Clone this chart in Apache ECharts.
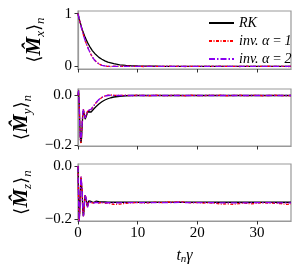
<!DOCTYPE html>
<html><head><meta charset="utf-8">
<script src="https://cdn.jsdelivr.net/npm/echarts@6/dist/echarts.min.js"></script>
<style>html,body{margin:0;padding:0;background:#fff}#c{width:300px;height:270px}</style>
</head><body><div id="c"></div>
<script>
const tGrid = [0,0.1,0.2,0.3,0.4,0.5,0.6,0.7,0.8,0.9,1.0,1.1,1.2,1.3,1.4,1.5,1.6,1.7,1.8,1.9,2.0,2.2,2.4,2.6,2.8,3.0,3.5,4,4.5,5,5.5,6,7,8,9,10,11,12,13,14,15,16,17,18,19,20,21,22,23,24,25,26,27,28,29,30,31,32,33,34,35,35.7];

const mxRK   = [1,0.95,0.905,0.86,0.82,0.78,0.74,0.705,0.67,0.64,0.61,0.58,0.55,0.52,0.50,0.47,0.45,0.43,0.41,0.39,0.37,0.335,0.30,0.27,0.245,0.22,0.17,0.135,0.105,0.08,0.065,0.05,0.03,0.018,0.011,0.007,0.004,0.003,0.002,0.001,0,0,0,0,0,0,0,0,0,0,0,0,0,0,0,0,0,0,0,0,0,0];
const mxInv1 = [1,0.95,0.90,0.85,0.81,0.76,0.72,0.68,0.64,0.60,0.56,0.53,0.49,0.46,0.43,0.40,0.37,0.34,0.315,0.29,0.265,0.22,0.18,0.145,0.115,0.09,0.045,0.02,0.006,0.001,-0.003,0.002,-0.002,0.003,-0.002,0.001,-0.003,0.002,0,-0.002,0.003,-0.001,0.002,-0.003,0.001,0,-0.002,0.002,-0.001,0.003,-0.002,0.001,-0.003,0.002,0,-0.002,0.001,0.002,-0.002,0.001,-0.003,0];
const mxInv2 = [1,0.95,0.90,0.85,0.81,0.76,0.72,0.68,0.64,0.60,0.56,0.53,0.49,0.46,0.43,0.40,0.37,0.34,0.315,0.29,0.265,0.22,0.18,0.145,0.115,0.09,0.045,0.02,0.008,0.003,0.001,0,0,0,0,0,0,0,0,0,0,0,0,0,0,0,0,0,0,0,0,0,0,0,0,0,0,0,0,0,0,0];

const myRK   = [0,0.02,-0.03,-0.11,-0.17,-0.19,-0.17,-0.12,-0.08,-0.06,-0.065,-0.08,-0.095,-0.10,-0.09,-0.075,-0.065,-0.063,-0.068,-0.072,-0.072,-0.066,-0.06,-0.055,-0.05,-0.045,-0.034,-0.025,-0.018,-0.013,-0.009,-0.006,-0.003,-0.001,0,0,0,0,0,0,0,0,0,0,0,0,0,0,0,0,0,0,0,0,0,0,0,0,0,0,0,0];
const myInv1 = [0,0.02,-0.04,-0.12,-0.18,-0.19,-0.16,-0.11,-0.07,-0.055,-0.06,-0.075,-0.09,-0.098,-0.088,-0.072,-0.062,-0.058,-0.06,-0.064,-0.063,-0.056,-0.05,-0.043,-0.036,-0.03,-0.017,-0.008,-0.002,0.001,0.002,0.001,0,0.001,-0.001,0.001,0,-0.001,0.001,0,-0.001,0.001,0,-0.001,0.001,0,-0.001,0.001,0,0.001,-0.001,0,0.001,-0.001,0,0.001,-0.001,0,0.001,0,-0.001,0];
const myInv2 = [0,0.02,-0.04,-0.12,-0.18,-0.185,-0.155,-0.105,-0.07,-0.055,-0.06,-0.075,-0.09,-0.097,-0.087,-0.071,-0.061,-0.057,-0.06,-0.063,-0.062,-0.055,-0.049,-0.042,-0.035,-0.029,-0.016,-0.007,-0.002,0,0.001,0,0,0,0,0,0,0,0,0,0,0,0,0,0,0,0,0,0,0,0,0,0,0,0,0,0,0,0,0,0,0];

const mzRK   = [0,-0.12,-0.20,-0.17,-0.09,-0.045,-0.04,-0.10,-0.17,-0.19,-0.17,-0.13,-0.11,-0.11,-0.13,-0.15,-0.155,-0.145,-0.132,-0.125,-0.124,-0.134,-0.14,-0.138,-0.134,-0.133,-0.135,-0.136,-0.136,-0.137,-0.137,-0.137,-0.137,-0.137,-0.137,-0.137,-0.137,-0.137,-0.137,-0.137,-0.137,-0.137,-0.137,-0.137,-0.137,-0.137,-0.137,-0.137,-0.137,-0.137,-0.137,-0.137,-0.137,-0.137,-0.137,-0.137,-0.137,-0.137,-0.137,-0.137,-0.137,-0.137];
const mzInv1 = [0,-0.13,-0.21,-0.17,-0.09,-0.04,-0.035,-0.09,-0.165,-0.19,-0.175,-0.135,-0.11,-0.105,-0.125,-0.148,-0.156,-0.148,-0.135,-0.128,-0.128,-0.138,-0.143,-0.14,-0.136,-0.137,-0.14,-0.138,-0.141,-0.139,-0.143,-0.145,-0.144,-0.141,-0.139,-0.138,-0.14,-0.139,-0.137,-0.138,-0.136,-0.137,-0.135,-0.137,-0.139,-0.138,-0.14,-0.139,-0.141,-0.144,-0.143,-0.145,-0.142,-0.14,-0.143,-0.141,-0.139,-0.14,-0.141,-0.142,-0.145,-0.143];
const mzInv2 = [0,-0.13,-0.21,-0.17,-0.09,-0.04,-0.035,-0.09,-0.165,-0.19,-0.175,-0.135,-0.11,-0.105,-0.125,-0.148,-0.156,-0.148,-0.135,-0.128,-0.128,-0.138,-0.142,-0.14,-0.137,-0.137,-0.139,-0.138,-0.139,-0.138,-0.139,-0.139,-0.139,-0.138,-0.138,-0.138,-0.138,-0.138,-0.138,-0.138,-0.138,-0.138,-0.137,-0.138,-0.138,-0.138,-0.138,-0.138,-0.139,-0.139,-0.139,-0.139,-0.139,-0.139,-0.139,-0.138,-0.138,-0.138,-0.139,-0.139,-0.139,-0.139];

const seriesNames = ['RK','inv. α\u2009=\u20091','inv. α\u2009=\u20092'];
const xTicks = [0,10,20,30];
const yTicks = [[0,1],[-0.2,0],[-0.2,0]];
const yRanges = [[-0.05,1.05],[-0.202,0.026],[-0.208,0.008]];
const yNames = ['x','y','z'];

const pair = (ys) => tGrid.map((t,i)=>[t,ys[i]]);
const panels = [[mxRK,mxInv1,mxInv2],[myRK,myInv1,myInv2],[mzRK,mzInv1,mzInv2]];

const serif = 'Liberation Serif';
const gridTops = [11,89,164];
const gridHeights = [58,57,57];
const styles = [
  {color:'#000000', type:'solid', width:1.3},
  {color:'#ff0000', type:[3,1.5,1,1.5], width:1.3},
  {color:'#8a00f0', type:[6,2,1.5,2], width:1.3}
];

const grids=[], xAxes=[], yAxes=[], series=[];
for (let p=0;p<3;p++){
  grids.push({left:78, width:213, top:gridTops[p], height:gridHeights[p], show:true, borderColor:'#999', borderWidth:1.2, containLabel:false});
  const xa = {type:'value', gridIndex:p, min:0, max:35.7, interval:10,
    axisLine:{show:true, onZero:false, lineStyle:{color:'#999', width:1.2}},
    axisTick:{show:true, length:3.5, customValues:xTicks, lineStyle:{color:'#333'}},
    axisLabel:{show:p===2, customValues:xTicks, fontFamily:serif, fontSize:15, color:'#000', margin:5},
    splitLine:{show:false}};
  if (p===2){
    xa.name='{i|t}{s|n}{i|γ}';
    xa.nameLocation='middle'; xa.nameGap=26;
    xa.nameTextStyle={fontFamily:serif, color:'#000', rich:{i:{fontFamily:serif,fontStyle:'italic',fontSize:16,lineHeight:18,color:'#000'}, s:{fontFamily:serif,fontStyle:'italic',fontSize:11,verticalAlign:'bottom',lineHeight:11,color:'#000'}}};
  }
  xAxes.push(xa);
  yAxes.push({type:'value', gridIndex:p, min:yRanges[p][0], max:yRanges[p][1],
    axisLine:{show:true, onZero:false, lineStyle:{color:'#999', width:1.2}},
    axisTick:{show:true, length:3.5, customValues:yTicks[p], lineStyle:{color:'#333'}},
    axisLabel:{customValues:yTicks[p], fontFamily:serif, fontSize:15, color:'#000', margin:6,
      formatter:(v)=> p===0 ? String(Math.round(v)) : (Math.abs(v)<1e-9 ? '0.0' : v.toFixed(1).replace('-','−'))},
    splitLine:{show:false},
    name:'{b|⟨}{m|M̂}{s|'+yNames[p]+'}{b|⟩}{s|n}',
    nameLocation:'middle', nameRotate:90, nameGap:31,
    nameTextStyle:{color:'#000', rich:{
      b:{fontFamily:'DejaVu Serif', fontSize:18, lineHeight:24, color:'#000'},
      m:{fontFamily:serif, fontStyle:'italic', fontWeight:'bold', fontSize:21, lineHeight:24, color:'#000'},
      s:{fontFamily:serif, fontStyle:'italic', fontSize:13, lineHeight:13, verticalAlign:'bottom', color:'#000'}}}
  });
  for (let k=0;k<3;k++){
    series.push({type:'line', name:seriesNames[k], xAxisIndex:p, yAxisIndex:p, data:pair(panels[p][k]),
      symbol:'none', smooth:false, silent:true, animation:false,
      lineStyle:{color:styles[k].color, type:styles[k].type, width:styles[k].width},
      itemStyle:{color:styles[k].color}, z:2+k});
  }
}

const chart = echarts.init(document.getElementById('c'), null, {renderer:'canvas'});
chart.setOption({
  animation:false,
  backgroundColor:'#fff',
  grid:grids, xAxis:xAxes, yAxis:yAxes, series:series,
  legend:{show:true, data:seriesNames, orient:'vertical', left:203, top:11, itemWidth:25, itemHeight:11, itemGap:4,
    itemStyle:{opacity:0, borderWidth:0},
    textStyle:{fontFamily:serif, fontStyle:'italic', fontSize:14, color:'#000'}}
});
</script></body></html>
